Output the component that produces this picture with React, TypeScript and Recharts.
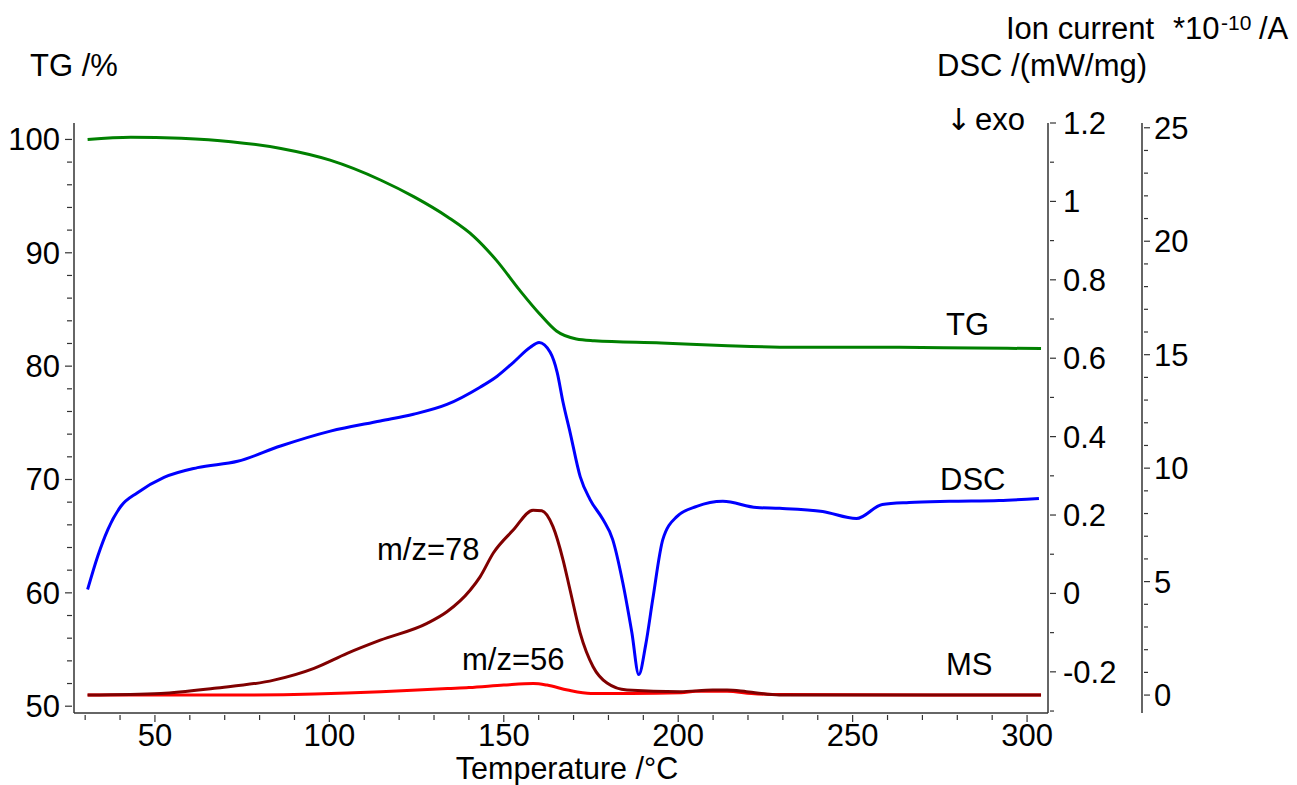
import React from "react";
import { ComposedChart, Line, XAxis, YAxis } from "recharts";

// TG (mass %) vs temperature
const tgTemp = [30.7, 43.1, 57.5, 71.8, 86.1, 100.2, 114.8, 124.3, 133.9, 141.6, 147.9, 154.6, 160.3, 165.1, 170.8, 175.9, 195.1, 214.2, 233.2, 261.9, 284.8, 304];
const tgValue = [100.0, 100.2, 100.1, 99.8, 99.2, 98.17, 96.4, 94.93, 93.16, 91.39, 89.33, 86.68, 84.6, 83.1, 82.4, 82.25, 82.05, 81.8, 81.66, 81.66, 81.6, 81.55];

// DSC (mW/mg)
const dscTemp = [30.7, 33.6, 36.5, 40.3, 45, 52.6, 62.2, 73.7, 86, 100.3, 114.6, 124.1, 133.7, 143.2, 148.1, 152.7, 157.6, 160.1, 163.3, 165.3, 167, 169, 171.9, 174.7, 178.4, 181.2, 184.1, 186.7, 188.7, 190.7, 192.7, 195.6, 199.6, 205.3, 212.8, 222.5, 229.1, 241.4, 251.1, 258.5, 266.2, 277.7, 292, 303.4];
const dscValue = [0.01, 0.095, 0.163, 0.223, 0.257, 0.296, 0.321, 0.337, 0.376, 0.414, 0.44, 0.457, 0.482, 0.526, 0.554, 0.589, 0.628, 0.64, 0.615, 0.564, 0.487, 0.411, 0.298, 0.24, 0.189, 0.138, 0.028, -0.099, -0.207, -0.13, -0.015, 0.138, 0.196, 0.222, 0.235, 0.219, 0.217, 0.209, 0.191, 0.227, 0.232, 0.235, 0.237, 0.242];

// MS ion current m/z=78 (*10^-10 A)
const ms78Temp = [30.7, 51.7, 67, 84.1, 95.6, 105.1, 114.6, 128, 133.7, 140.4, 143.2, 147, 152.7, 158.4, 160.9, 164.1, 167, 169, 171.9, 175.6, 179.6, 185.3, 200.5, 209.9, 214, 219.6, 229, 304];
const ms78Value = [0.0, 0.07, 0.3, 0.66, 1.18, 1.84, 2.42, 3.16, 3.67, 4.63, 5.21, 6.26, 7.27, 8.15, 8.12, 7.42, 5.95, 4.63, 2.73, 1.25, 0.53, 0.22, 0.15, 0.22, 0.22, 0.15, 0.0, 0.0];

// MS ion current m/z=56 (*10^-10 A)
const ms56Temp = [30.7, 71, 114.8, 133.9, 140, 150, 158.5, 162.4, 168.3, 175, 186.5, 200.9, 205, 214, 221, 230, 304];
const ms56Value = [0.0, 0.0, 0.15, 0.29, 0.33, 0.44, 0.51, 0.44, 0.22, 0.07, 0.07, 0.1, 0.17, 0.17, 0.07, 0.02, 0.0];

const xTicks = Array.from({ length: 28 }, (_, i) => 30 + i * 10);
const tgTicks = Array.from({ length: 26 }, (_, i) => 50 + i * 2);
const dscTicks = Array.from({ length: 16 }, (_, i) => Math.round((-0.3 + i * 0.1) * 10) / 10);
const ionTicks = Array.from({ length: 26 }, (_, i) => i);

const FONT = "'Liberation Sans', Arial, sans-serif";
const AXIS = "#333";

const zip = (ts: number[], vs: number[]) => ts.map((t, i) => ({ t, v: vs[i] }));
const tgData = zip(tgTemp, tgValue);
const dscData = zip(dscTemp, dscValue);
const ms78Data = zip(ms78Temp, ms78Value);
const ms56Data = zip(ms56Temp, ms56Value);

const XTick = ({ x, y, payload }: any) => {
  const v = payload.value;
  const major = v % 50 === 0;
  return (
    <g>
      <line x1={x} x2={x} y1={y} y2={y + (major ? 7 : 5)} stroke={AXIS} strokeWidth={1.2} />
      {major && (
        <text x={x} y={y + 31} textAnchor="middle" fontSize={31} fontFamily={FONT} fill="#000">
          {v}
        </text>
      )}
    </g>
  );
};

const TgTick = ({ x, y, payload }: any) => {
  const v = payload.value;
  const major = v % 10 === 0;
  return (
    <g>
      <line x1={x} x2={x - (major ? 7 : 5)} y1={y} y2={y} stroke={AXIS} strokeWidth={1.2} />
      {major && (
        <text x={x - 12} y={y + 11} textAnchor="end" fontSize={31} fontFamily={FONT} fill="#000">
          {v}
        </text>
      )}
    </g>
  );
};

const DscTick = ({ x, y, payload }: any) => {
  const v = payload.value;
  const major = Math.round(v * 10) % 2 === 0;
  return (
    <g>
      <line x1={x} x2={x + (major ? 6 : 4)} y1={y} y2={y} stroke={AXIS} strokeWidth={1.2} />
      {major && (
        <text x={x + 13} y={y + 11} textAnchor="start" fontSize={31} fontFamily={FONT} fill="#000">
          {String(v)}
        </text>
      )}
    </g>
  );
};

const IonTick = ({ x, y, payload }: any) => {
  const v = payload.value;
  const major = v % 5 === 0;
  return (
    <g>
      <line x1={x} x2={x + (major ? 6 : 4)} y1={y} y2={y} stroke={AXIS} strokeWidth={1.2} />
      {major && (
        <text x={x + 10} y={y + 11} textAnchor="start" fontSize={31} fontFamily={FONT} fill="#000">
          {v}
        </text>
      )}
    </g>
  );
};

export default function App() {
  const txt = { fontFamily: FONT, fontSize: 31, fill: "#000" };
  return (
    <div style={{ position: "absolute", left: 0, top: 0, width: 1297, height: 785, background: "#fff" }}>
      <ComposedChart width={1297} height={785} margin={{ top: 123, right: 75, bottom: 0, left: 0 }}>
        <XAxis
          type="number"
          dataKey="t"
          domain={[26.8, 306]}
          ticks={xTicks}
          interval={0}
          tickSize={0}
          tickLine={false}
          tick={XTick}
          height={72}
          allowDataOverflow
          axisLine={{ stroke: AXIS, strokeWidth: 1.5 }}
        />
        <YAxis
          yAxisId="tg"
          orientation="left"
          type="number"
          domain={[49.4, 101.45]}
          ticks={tgTicks}
          interval={0}
          tickSize={0}
          tickLine={false}
          tick={TgTick}
          width={74}
          allowDataOverflow
          axisLine={{ stroke: AXIS, strokeWidth: 1.5 }}
        />
        <YAxis
          yAxisId="dsc"
          orientation="right"
          type="number"
          domain={[-0.305, 1.2]}
          ticks={dscTicks}
          interval={0}
          tickSize={0}
          tickLine={false}
          tick={DscTick}
          width={94}
          allowDataOverflow
          axisLine={{ stroke: AXIS, strokeWidth: 1.5 }}
        />
        <YAxis
          yAxisId="ion"
          orientation="right"
          type="number"
          domain={[-0.79, 25.21]}
          ticks={ionTicks}
          interval={0}
          tickSize={0}
          tickLine={false}
          tick={IonTick}
          width={80}
          allowDataOverflow
          axisLine={{ stroke: AXIS, strokeWidth: 1.5 }}
        />
        <Line yAxisId="ion" data={ms56Data} dataKey="v" type="monotone" stroke="#ff0000" strokeWidth={3} dot={false} isAnimationActive={false} />
        <Line yAxisId="ion" data={ms78Data} dataKey="v" type="monotone" stroke="#800000" strokeWidth={3} dot={false} isAnimationActive={false} />
        <Line yAxisId="dsc" data={dscData} dataKey="v" type="monotone" stroke="#0000ff" strokeWidth={3} dot={false} isAnimationActive={false} />
        <Line yAxisId="tg" data={tgData} dataKey="v" type="monotone" stroke="#008000" strokeWidth={3} dot={false} isAnimationActive={false} />
      </ComposedChart>
      <svg width={1297} height={785} style={{ position: "absolute", left: 0, top: 0, pointerEvents: "none" }}>
        <text x={30} y={76} {...txt}>TG /%</text>
        <text x={937} y={76} {...txt}>DSC /(mW/mg)</text>
        <text y={39} {...txt}>
          <tspan x={1006}>Ion current</tspan>
          <tspan x={1173}>*10</tspan>
          <tspan x={1221} dy={-9} fontSize={21}>-10</tspan>
          <tspan x={1259} dy={9}>/A</tspan>
        </text>
        <text y={130} {...txt}>
          <tspan x={946} fontFamily="'DejaVu Sans', sans-serif" fontSize={30}>↓</tspan>
          <tspan x={975}>exo</tspan>
        </text>
        <text x={567} y={778.5} textAnchor="middle" {...txt} fontSize={30.5}>Temperature /°C</text>
        <text x={946} y={335} {...txt}>TG</text>
        <text x={940} y={490} {...txt}>DSC</text>
        <text x={946} y={675} {...txt}>MS</text>
        <text x={377} y={560} {...txt}>m/z=78</text>
        <text x={462} y={670} {...txt}>m/z=56</text>
      </svg>
    </div>
  );
}
